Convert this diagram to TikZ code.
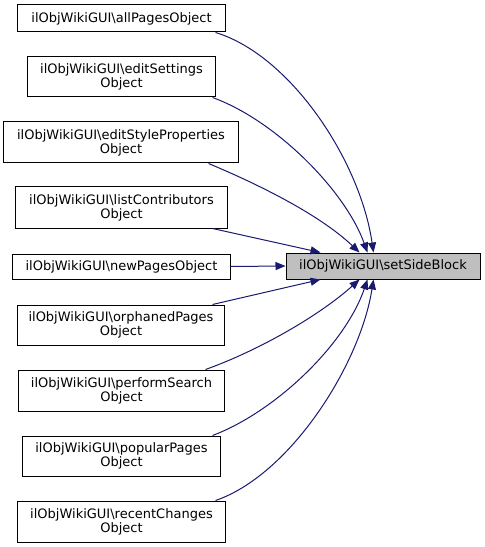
\documentclass[tikz,border=0pt]{standalone}
\usepackage{fontspec}
\setmainfont{DejaVu Sans}
\usetikzlibrary{arrows.meta,calc}
\definecolor{edgeblue}{HTML}{191970}
\definecolor{boxgrey}{HTML}{BFBFBF}
\begin{document}
\begin{tikzpicture}[x=1bp,y=-1bp,
  box/.style={draw=black,line width=1bp,inner sep=0pt,align=center,
    font=\fontsize{13bp}{14bp}\selectfont,fill=white},
  edge/.style={draw=edgeblue,line width=1bp,-{Triangle[length=10bp,width=8bp]}}]
\useasboundingbox (0,0) rectangle (485,547);
\node[box,minimum width=207bp,minimum height=27bp] (a) at (121.5,18.5) {ilObjWikiGUI\textbackslash allPagesObject};
\node[box,minimum width=187bp,minimum height=40bp] (b) at (121.5,77) {ilObjWikiGUI\textbackslash editSettings\\Object};
\node[box,minimum width=234bp,minimum height=41bp] (c) at (121,142.5) {ilObjWikiGUI\textbackslash editStyleProperties\\Object};
\node[box,minimum width=211bp,minimum height=41bp] (d) at (121.5,207.5) {ilObjWikiGUI\textbackslash listContributors\\Object};
\node[box,minimum width=217bp,minimum height=25bp] (e) at (121.5,266.5) {ilObjWikiGUI\textbackslash newPagesObject};
\node[box,minimum width=206bp,minimum height=40bp] (f) at (121,325) {ilObjWikiGUI\textbackslash orphanedPages\\Object};
\node[box,minimum width=205bp,minimum height=41bp] (g) at (121.5,390.5) {ilObjWikiGUI\textbackslash performSearch\\Object};
\node[box,minimum width=197bp,minimum height=40bp] (h) at (121.5,456) {ilObjWikiGUI\textbackslash popularPages\\Object};
\node[box,minimum width=207bp,minimum height=41bp] (i) at (121.5,521.5) {ilObjWikiGUI\textbackslash recentChanges\\Object};
\node[box,fill=boxgrey,minimum width=194bp,minimum height=26bp] (t) at (383,266) {ilObjWikiGUI\textbackslash setSideBlock};

\draw[edge] ([xshift=-10bp]a.south east) .. controls (290,55) and (360,160) .. ([xshift=88bp]t.north west);
\draw[edge] ([xshift=-3bp]b.south east) .. controls (275,120) and (345,190) .. ([xshift=82bp]t.north west);
\draw[edge] ([xshift=-30bp]c.south east) .. controls (260,185) and (320,215) .. ([xshift=74bp]t.north west);
\draw[edge] ([xshift=-15bp]d.south east) -- ([xshift=35bp]t.north west);
\draw[edge] (e.east) -- (t.west);
\draw[edge] ([xshift=-12bp]f.north east) -- ([xshift=35bp]t.south west);
\draw[edge] ([xshift=-19bp]g.north east) .. controls (260,350) and (320,315) .. ([xshift=74bp]t.south west);
\draw[edge] ([xshift=-8bp]h.north east) .. controls (275,412) and (345,345) .. ([xshift=82bp]t.south west);
\draw[edge] ([xshift=-10bp]i.north east) .. controls (290,475) and (360,365) .. ([xshift=88bp]t.south west);
\end{tikzpicture}
\end{document}
